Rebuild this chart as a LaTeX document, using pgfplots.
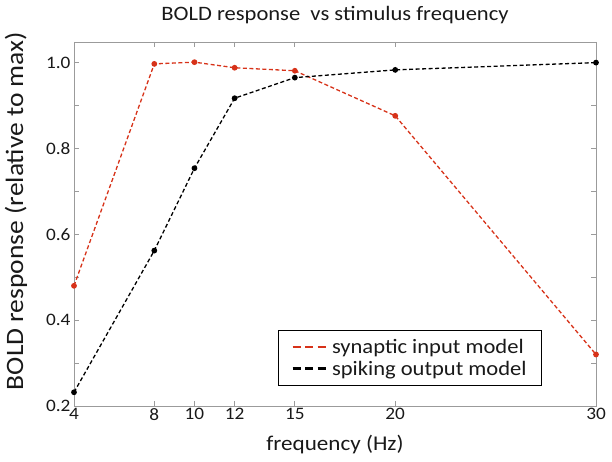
\documentclass[border=0pt]{standalone}
\usepackage{pgfplots}
\pgfplotsset{compat=1.18}
\usepackage{fontspec}
\setmainfont{Carlito}[FakeStretch=1.1]
\definecolor{myred}{RGB}{215,50,25}
\definecolor{framegray}{RGB}{155,155,155}
\definecolor{txt}{RGB}{25,25,25}
\begin{document}
\begin{tikzpicture}
\begin{axis}[
  scale only axis,
  width=522pt, height=364pt,
  xmin=4, xmax=30, ymin=0.2, ymax=1.048,
  xtick={4,8,10,12,15,20,30},
  ytick={0.2,0.4,0.6,0.8,1.0},
  minor ytick={0.3,0.5,0.7,0.9},
  yticklabel style={/pgf/number format/.cd, fixed, fixed zerofill, precision=1},
  /pgf/number format/assume math mode=true,
  tick align=inside,
  major tick length=5pt, minor tick length=5pt,
  axis line style={framegray, line width=0.8pt},
  every tick/.style={framegray, line width=0.8pt},
  every minor tick/.style={framegray, line width=0.8pt},
  tick label style={font=\fontsize{17.5}{17.5}\selectfont, text=txt},
  xticklabel style={yshift=1pt},
  title={BOLD response\ \ vs stimulus frequency},
  title style={font=\fontsize{20.5}{20.5}\selectfont, text=txt, yshift=9pt},
  xlabel={frequency (Hz)},
  ylabel={BOLD response (relative to max)},
  xlabel style={font=\fontsize{21}{21}\selectfont, text=txt, yshift=-8pt},
  ylabel style={font=\fontsize{25}{25}\selectfont, text=txt, yshift=12pt, xshift=13pt},
  legend style={at={(rel axis cs:0.8966,0.055)}, anchor=south east,
    font=\fontsize{20.5}{23}\selectfont, text=txt, draw=black, line width=0.8pt,
    inner xsep=13pt, inner ysep=7pt, row sep=2pt},
  legend cell align=left,
  legend image code/.code={\draw[#1, mark=none, line width=2.6pt, dash pattern=on 8pt off 4.5pt] (0pt,0pt) -- (36pt,0pt);},
  clip=false,
]
\addplot[myred, line width=1.3pt, dash pattern=on 4pt off 2.5pt, mark=*, mark size=2.2pt, mark options={solid}]
  coordinates {(4,0.48) (8,0.997) (10,1.001) (12,0.988) (15,0.981) (20,0.876) (30,0.32)};
\addlegendentry{synaptic input model}
\addplot[black, line width=1.3pt, dash pattern=on 4pt off 2.5pt, mark=*, mark size=2.2pt, mark options={solid}]
  coordinates {(4,0.232) (8,0.562) (10,0.754) (12,0.917) (15,0.965) (20,0.983) (30,1.0)};
\addlegendentry{spiking output model}
\end{axis}
\pgfresetboundingbox
\path (-74pt,-56pt) rectangle (538pt,406pt);
\end{tikzpicture}
\end{document}
